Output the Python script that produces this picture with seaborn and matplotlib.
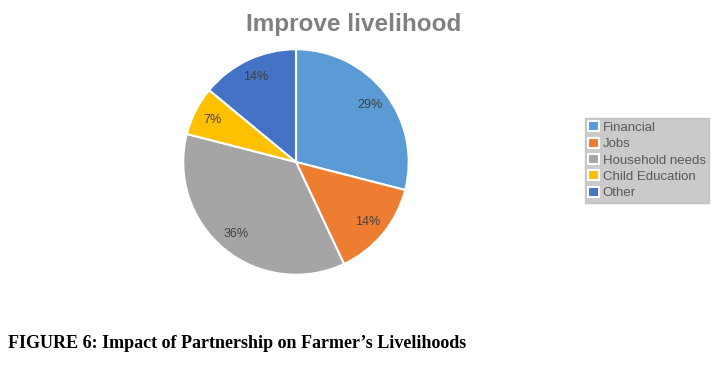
import matplotlib
matplotlib.use("Agg")
import matplotlib.pyplot as plt
import seaborn as sns

categories = ["Financial", "Jobs", "Household needs", "Child Education", "Other"]
shares = [29, 14, 36, 7, 14]
colors = ["#5B9BD5", "#ED7D31", "#A5A5A5", "#FFC000", "#4472C4"]

sns.set_theme(style="white")
plt.rcParams['font.family'] = ['Liberation Sans', 'DejaVu Sans']

fig = plt.figure(figsize=(7.25, 3.68), dpi=100)
fig.patch.set_facecolor("white")

ax = fig.add_axes([181/725, 91/368, 230/725, 230/368])
wedges, texts, autotexts = ax.pie(
    shares, colors=colors, startangle=90, counterclock=False,
    autopct=lambda p: f"{p:.0f}%", pctdistance=0.83,
    wedgeprops=dict(edgecolor="white", linewidth=1.5),
    textprops=dict(color="#404040", fontsize=9))
ax.set_xlim(-1.02, 1.02)
ax.set_ylim(-1.02, 1.02)
ax.set_aspect("equal")

fig.text(354/725, 1 - 25/368, "Improve livelihood", ha="center", va="center",
         fontsize=17.5, fontweight="bold", color="#808080")

leg = fig.legend(wedges, categories, loc="upper left",
                 bbox_to_anchor=(585/725, 1 - 118/368), frameon=True,
                 fontsize=9.5, handlelength=0.8, handleheight=0.8,
                 handletextpad=0.3, labelspacing=0.28, borderpad=0.25,
                 borderaxespad=0, fancybox=False)
leg.get_frame().set_facecolor("#bdbdbd")
leg.get_frame().set_edgecolor("#bdbdbd")
for t in leg.get_texts():
    t.set_color("#595959")

fig.text(8/725, 1 - 344/368, "FIGURE 6: Impact of Partnership on Farmer\u2019s Livelihoods",
         ha="left", va="center", fontsize=13.0, fontweight="bold",
         family=["Liberation Serif", "DejaVu Serif"], color="black")

fig.savefig("out.png", dpi=100)
